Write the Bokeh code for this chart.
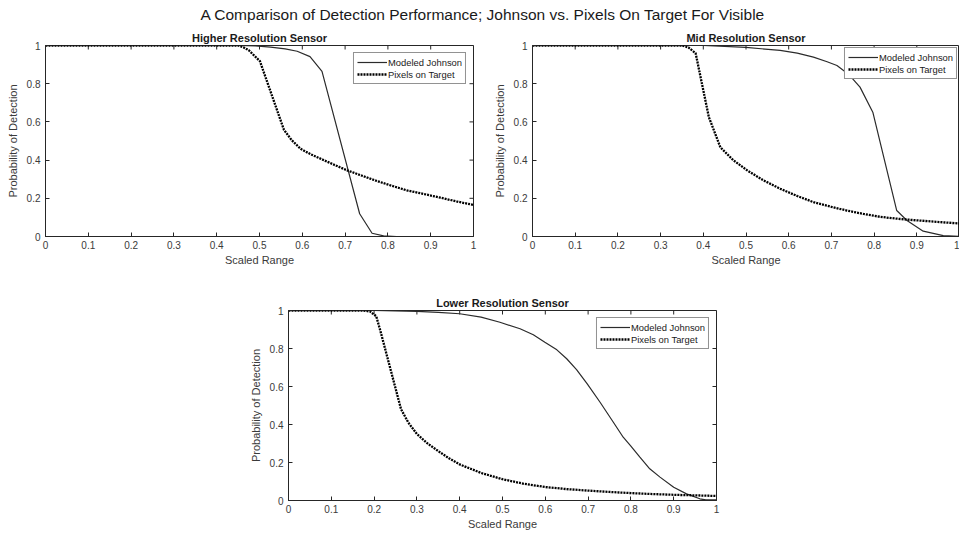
from bokeh.plotting import figure
from bokeh.layouts import column, row
from bokeh.models import Range1d, FixedTicker, Legend, LegendItem
from bokeh.embed import file_html
from bokeh.resources import INLINE

# ---------------- data ----------------
main_title = "A Comparison of Detection Performance; Johnson vs. Pixels On Target For Visible"
panel_titles = ["Higher Resolution Sensor", "Mid Resolution Sensor", "Lower Resolution Sensor"]
series_names = ["Modeled Johnson", "Pixels on Target"]
x_label = "Scaled Range"
y_label = "Probability of Detection"

x_ticks = [0, 0.1, 0.2, 0.3, 0.4, 0.5, 0.6, 0.7, 0.8, 0.9, 1]
x_tick_labels = ["0", "0.1", "0.2", "0.3", "0.4", "0.5", "0.6", "0.7", "0.8", "0.9", "1"]
y_ticks = [0, 0.2, 0.4, 0.6, 0.8, 1]
y_tick_labels = ["0", "0.2", "0.4", "0.6", "0.8", "1"]

# Higher resolution sensor
high_johnson_x = [0, 0.3, 0.45, 0.49, 0.526, 0.56, 0.588, 0.618, 0.646, 0.734, 0.763, 0.79, 0.82, 1.0]
high_johnson_y = [1, 1, 1, 0.998, 0.991, 0.982, 0.970, 0.942, 0.865, 0.119, 0.017, 0.003, 0, 0]
high_pixels_x = [0, 0.3, 0.45, 0.463, 0.475, 0.501, 0.557, 0.575, 0.596, 0.62, 0.643, 0.675, 0.705, 0.74,
                 0.775, 0.81, 0.845, 0.885, 0.923, 0.96, 1.0]
high_pixels_y = [1, 1, 1, 0.99, 0.975, 0.918, 0.559, 0.505, 0.459, 0.43, 0.407, 0.375, 0.346, 0.318,
                 0.290, 0.265, 0.241, 0.222, 0.203, 0.184, 0.165]

# Mid resolution sensor
mid_johnson_x = [0, 0.3, 0.4, 0.5, 0.58, 0.62, 0.658, 0.69, 0.713, 0.74, 0.767, 0.797, 0.853, 0.877, 0.915, 0.962, 1.0]
mid_johnson_y = [1, 1, 1, 0.99, 0.974, 0.96, 0.939, 0.915, 0.895, 0.85, 0.782, 0.651, 0.136, 0.084, 0.028, 0.005, 0]
mid_pixels_x = [0, 0.2, 0.35, 0.365, 0.382, 0.413, 0.44, 0.47, 0.503, 0.54, 0.58, 0.62, 0.658, 0.70, 0.736,
                0.775, 0.814, 0.85, 0.892, 0.945, 1.0]
mid_pixels_y = [1, 1, 1, 0.99, 0.96, 0.625, 0.467, 0.40, 0.346, 0.295, 0.25, 0.212, 0.18, 0.155, 0.136,
                0.118, 0.103, 0.094, 0.086, 0.077, 0.068]

# Lower resolution sensor
low_johnson_x = [0, 0.2, 0.3, 0.35, 0.4, 0.45, 0.494, 0.541, 0.572, 0.599, 0.627, 0.65, 0.673, 0.698, 0.728,
                 0.759, 0.782, 0.799, 0.821, 0.844, 0.868, 0.9, 0.93, 0.961, 0.975, 1.0]
low_johnson_y = [1, 1, 0.995, 0.99, 0.983, 0.965, 0.938, 0.904, 0.872, 0.833, 0.793, 0.746, 0.689, 0.614, 0.517,
                 0.412, 0.333, 0.289, 0.228, 0.167, 0.123, 0.070, 0.035, 0.009, 0.003, 0.003]
low_pixels_x = [0, 0.175, 0.19, 0.205, 0.215, 0.263, 0.28, 0.3, 0.325, 0.35, 0.375, 0.4, 0.45, 0.5, 0.55, 0.6,
                0.65, 0.7, 0.75, 0.8, 0.85, 0.9, 0.95, 1.0]
low_pixels_y = [1, 1, 0.995, 0.97, 0.89, 0.48, 0.41, 0.35, 0.30, 0.26, 0.222, 0.19, 0.145, 0.112, 0.088, 0.071,
                0.06, 0.052, 0.045, 0.039, 0.034, 0.03, 0.027, 0.024]

# ---------------- styling ----------------
FONT = "Liberation Sans"
AX = "#262626"
TXT = "#3a3a3a"
TICK_LEN = 4


def style_axis(ax):
    ax.axis_line_color = AX
    ax.major_tick_line_color = AX
    ax.major_tick_in = TICK_LEN
    ax.major_tick_out = 0
    ax.minor_tick_line_color = None
    ax.major_label_text_font = FONT
    ax.major_label_text_font_size = "10px"
    ax.major_label_text_color = TXT
    ax.axis_label_text_font = FONT
    ax.axis_label_text_font_size = "11px"
    ax.axis_label_text_font_style = "normal"
    ax.axis_label_text_color = TXT


def panel(title, jx, jy, px, py, left, right, top, bottom, fw, fh, right_ticks=True, legend_margin=7):
    p = figure(frame_width=fw, frame_height=fh,
               x_range=Range1d(0, 1), y_range=Range1d(0, 1),
               toolbar_location=None, output_backend="svg",
               min_border_left=left, min_border_right=right,
               min_border_top=top, min_border_bottom=bottom)
    p.grid.visible = False
    p.outline_line_color = AX
    p.outline_line_alpha = 1
    p.background_fill_color = "white"
    p.border_fill_color = "white"

    p.title.text = title
    p.title.align = "center"
    p.title.text_font = FONT
    p.title.text_font_size = "11px"
    p.title.text_font_style = "bold"
    p.title.text_color = "#1a1a1a"
    p.title.standoff = 3

    p.xaxis.ticker = FixedTicker(ticks=x_ticks)
    p.xaxis.major_label_overrides = dict(zip(x_ticks, x_tick_labels))
    p.yaxis.ticker = FixedTicker(ticks=y_ticks)
    p.yaxis.major_label_overrides = dict(zip(y_ticks, y_tick_labels))
    p.xaxis.axis_label = x_label
    p.yaxis.axis_label = y_label
    p.xaxis.major_label_standoff = 4
    p.xaxis.axis_label_standoff = 2
    p.yaxis.major_label_standoff = 5
    p.yaxis.axis_label_standoff = 5
    style_axis(p.xaxis[0])
    style_axis(p.yaxis[0])

    # inward ticks on the top edge (and right edge) of the box, taken from the tick lists
    ty = 1 - TICK_LEN / fh
    p.segment(x0=x_ticks, y0=[1] * len(x_ticks), x1=x_ticks, y1=[ty] * len(x_ticks),
              line_color=AX, line_width=1)
    if right_ticks:
        tx = 1 - TICK_LEN / fw
        p.segment(x0=[1] * len(y_ticks), y0=y_ticks, x1=[tx] * len(y_ticks), y1=y_ticks,
                  line_color=AX, line_width=1)

    r1 = p.line(jx, jy, line_color="#2b2b2b", line_width=1.2)
    r2 = p.line(px, py, line_color="black", line_width=2.3, line_dash="2 1")

    leg = Legend(items=[LegendItem(label=series_names[0], renderers=[r1]),
                        LegendItem(label=series_names[1], renderers=[r2])],
                 location="top_right")
    leg.margin = legend_margin
    leg.padding = 3
    leg.spacing = 0
    leg.glyph_width = 30
    leg.glyph_height = 12
    leg.label_height = 12
    leg.label_standoff = 1
    leg.label_text_font = FONT
    leg.label_text_font_size = "9.4px"
    leg.label_text_color = "#1a1a1a"
    leg.border_line_color = AX
    leg.border_line_width = 1
    leg.background_fill_color = "white"
    leg.background_fill_alpha = 1
    p.add_layout(leg)
    return p


# main title strip: a frameless, axis-less figure whose own title carries the heading.
# (Its frame is aligned by the column with the lower panel's frame, which starts at x=288,
#  so a negative offset brings the heading's left edge to x=200.)
tf = figure(width=959, height=28, x_range=Range1d(0, 1), y_range=Range1d(0, 1),
            x_axis_type=None, y_axis_type=None,
            toolbar_location=None, output_backend="svg", min_border=0, min_border_top=22)
tf.grid.visible = False
tf.outline_line_color = None
tf.title.text = main_title
tf.title.align = "left"
tf.title.offset = -88
tf.title.standoff = 0
tf.title.text_font = FONT
tf.title.text_font_size = "15.5px"
tf.title.text_font_style = "normal"
tf.title.text_color = "#1a1a1a"

pa = panel(panel_titles[0], high_johnson_x, high_johnson_y, high_pixels_x, high_pixels_y,
           left=45, right=7, top=17, bottom=36, fw=428, fh=191)
pb = panel(panel_titles[1], mid_johnson_x, mid_johnson_y, mid_pixels_x, mid_pixels_y,
           left=52, right=0, top=17, bottom=36, fw=427, fh=191, right_ticks=False, legend_margin=2)
pc = panel(panel_titles[2], low_johnson_x, low_johnson_y, low_pixels_x, low_pixels_y,
           left=288, right=243, top=38, bottom=34, fw=428, fh=190)

layout = column(tf, row(pa, pb), pc)
open("out.html", "w").write(file_html(layout, INLINE))
